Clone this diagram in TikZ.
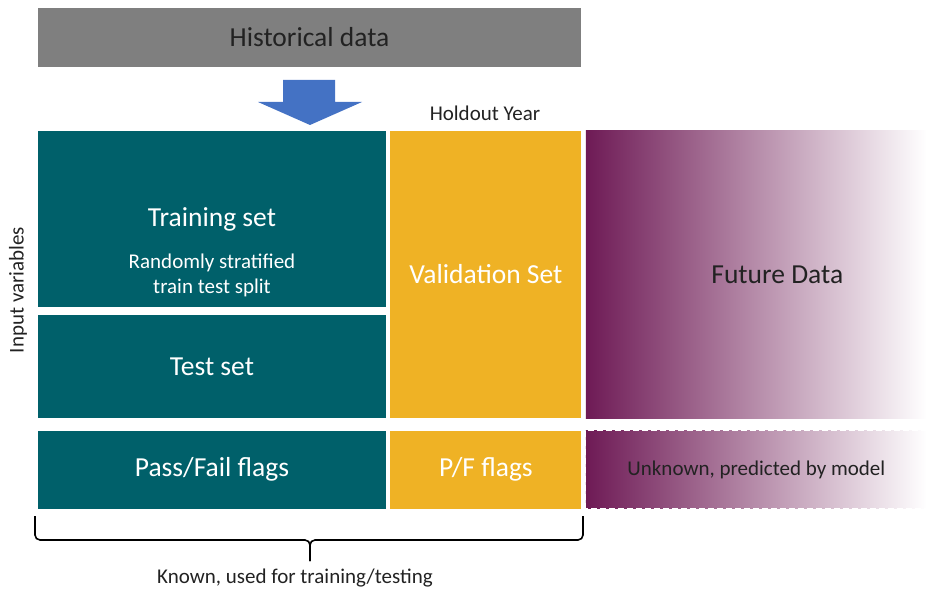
\documentclass[tikz,border=0pt]{standalone}
\usepackage{fontspec}
\setmainfont{Carlito}
\usepackage{xcolor}
\usetikzlibrary{positioning}
\definecolor{histgray}{HTML}{7F7F7F}
\definecolor{tealset}{HTML}{00606A}
\definecolor{goldset}{HTML}{EFB225}
\definecolor{plumset}{HTML}{6E1A55}
\definecolor{arrowblue}{HTML}{4472C4}
\definecolor{inkdark}{HTML}{222222}
\tikzset{
  bigtxt/.style={font=\fontsize{27.5}{30}\selectfont},
  smalltxt/.style={font=\fontsize{21}{25}\selectfont},
  setbox/.style={rectangle, inner sep=0pt, fill=tealset, text=white, bigtxt},
  valbox/.style={rectangle, inner sep=0pt, fill=goldset, text=white, bigtxt},
  futbox/.style={rectangle, inner sep=0pt, left color=plumset, middle color=plumset!30, right color=white, text=inkdark},
  brace/.style={draw=black, line width=1.6pt, rounded corners=5pt},
}
\begin{document}
\begin{tikzpicture}[x=1pt, y=-1pt]
\useasboundingbox (0,0) rectangle (926,591);
% source data and block arrow
\node[rectangle, fill=histgray, text=inkdark, bigtxt, minimum width=543pt, minimum height=59pt] (hist) at (309.5,37.5) {Historical data};
\fill[arrowblue] (283,80) -- (335,80) -- (335,102) -- (362,102) -- (310,125) -- (258,102) -- (283,102) -- cycle;
\node[smalltxt, text=inkdark] (hold) at (485,113) {Holdout Year};
% input variables
\node[setbox, minimum width=348pt, minimum height=176pt] (train) at (212,219) {Training set};
\node[smalltxt, text=white, align=center] (split) at (212,275.5) {Randomly stratified\\train test split};
\node[setbox, minimum width=348pt, minimum height=103pt, below=8pt of train] (test) {Test set};
\node[valbox, minimum width=191pt, minimum height=287pt, right=4pt of train.north east, anchor=north west] (valid) {Validation Set};
\node[futbox, minimum width=341pt, minimum height=287pt, right=4pt of valid] (future) {};
\node[bigtxt, text=inkdark] (futlabel) at ([xshift=21pt]future.center) {Future Data};
\node[smalltxt, text=inkdark, rotate=90] (inputs) at (18,290) {Input variables};
% pass/fail row
\node[setbox, minimum width=348pt, minimum height=78pt, below=12pt of test] (pass) {Pass/Fail flags};
\node[valbox, minimum width=191pt, minimum height=78pt, right=4pt of pass] (pf) {P/F flags};
\node[futbox, smalltxt, minimum width=341pt, minimum height=78pt, right=4pt of pf] (unknown) {Unknown, predicted by model};
\draw[white, line width=1.5pt, dash pattern=on 6pt off 3pt] (unknown.south west) rectangle (unknown.north east);
% brace
\coordinate (bl) at (35,516);
\coordinate (br) at (583,516);
\coordinate (bm) at (310,540);
\coordinate (bt) at (310,561);
\draw[brace] (bl) |- (bm) -- (bt);
\draw[brace] (br) |- (bm) -- (bt);
\node[smalltxt, text=inkdark] (known) at (295,578) {Known, used for training/testing};
\end{tikzpicture}
\end{document}
